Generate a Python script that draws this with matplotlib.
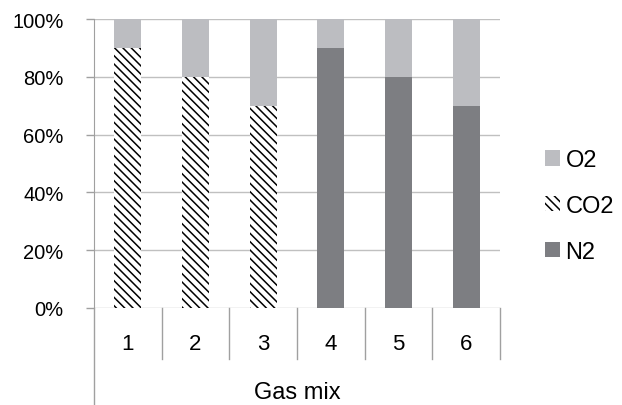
import matplotlib.pyplot as plt
from matplotlib.patches import Patch

plt.rcParams['font.family'] = 'Liberation Sans'
plt.rcParams['hatch.linewidth'] = 1.1

mixes = ["1", "2", "3", "4", "5", "6"]
n2 = [0, 0, 0, 90, 80, 70]
co2 = [90, 80, 70, 0, 0, 0]
o2 = [10, 20, 30, 10, 20, 30]

fig = plt.figure(figsize=(6.22, 4.06), dpi=100)
ax = fig.add_axes([94/622, 97/406, 406/622, 289/406])

x = range(len(mixes))
w = 0.4
ax.bar(x, n2, w, color='#7d7e82', label='N2', zorder=2)
ax.bar(x, co2, w, bottom=n2, color='white', edgecolor='black', hatch='\\\\\\\\',
       linewidth=0, label='CO2', zorder=2)
bot = [a + b for a, b in zip(n2, co2)]
ax.bar(x, o2, w, bottom=bot, color='#bcbdc1', label='O2', zorder=2)

ax.set_xlim(-0.5, 5.5)
ax.set_ylim(0, 100)
ax.set_yticks([0, 20, 40, 60, 80, 100])
ax.set_yticklabels(['0%', '20%', '40%', '60%', '80%', '100%'], fontsize=14.5)
ax.yaxis.grid(True, color='#c0c0c0', linewidth=1, zorder=0)
ax.tick_params(axis='y', length=6, width=1, color='#a0a0a0', pad=16)
ax.set_xticks([])
for s in ['top', 'right', 'bottom']:
    ax.spines[s].set_visible(False)
ax.spines['left'].set_color('#a0a0a0')

# category box under the axis
for k in range(7):
    xx = k - 0.5
    y0 = -51/289*100
    if k == 0:
        y0 = -100/289*100
    ax.plot([xx, xx], [0, y0], color='#a0a0a0', lw=1, clip_on=False)
for i, m in enumerate(mixes):
    ax.text(i, -36/289*100, m, ha='center', va='center', fontsize=16)
ax.text(2.5, -84/289*100, 'Gas mix', ha='center', va='center', fontsize=17)

handles = [Patch(facecolor='#bcbdc1', label='O2'),
           Patch(facecolor='white', edgecolor='black', hatch='\\\\\\\\', linewidth=0, label='CO2'),
           Patch(facecolor='#7d7e82', label='N2')]
fig.legend(handles=handles, loc='center left', bbox_to_anchor=(545/622, 1 - 207/406),
           frameon=False, fontsize=17, handlelength=0.62, handleheight=0.62,
           handletextpad=0.25, labelspacing=1.0, borderpad=0, borderaxespad=0)

fig.savefig('out.png', dpi=100)
